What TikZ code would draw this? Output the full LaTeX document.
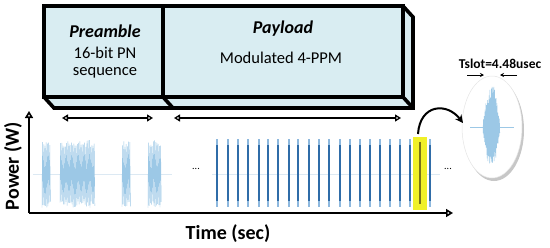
\documentclass[tikz,border=0pt]{standalone}
\usepackage{fontspec}
\setmainfont{Carlito}
\usetikzlibrary{arrows.meta}
\definecolor{boxfill}{HTML}{D9EDF2}
\definecolor{wavec}{HTML}{9CC8E6}
\definecolor{barc}{HTML}{2F6CA8}
\definecolor{barl}{HTML}{8DB8DE}
\definecolor{hlc}{HTML}{F0F028}
\definecolor{basec}{HTML}{DCE9F3}
\begin{document}
\begin{tikzpicture}[x=1pt,y=-1pt,
  boxline/.style={line width=3.6pt,line join=miter,draw=black},
  dimarrow/.style={line width=1.3pt,{Triangle[open,length=6pt,width=7pt]}-{Triangle[open,length=6pt,width=7pt]}},
  axisline/.style={line width=1.6pt},
  titletext/.style={font=\fontsize{18}{20}\selectfont\bfseries\itshape},
  subtext/.style={font=\fontsize{16.5}{19}\selectfont,align=center},
  axtext/.style={font=\fontsize{20}{22}\selectfont\bfseries},
  burst/.style={wavec,line width=0.45pt},
]
\useasboundingbox (0,0) rectangle (550,247);
% ---------- 3D frame box ----------
\fill[boxfill] (44,6) rectangle (403,97);
\fill[boxfill] (44,97) -- (403,97) -- (413,108) -- (54,108) -- cycle;
\fill[boxfill] (403,6) -- (413,17) -- (413,108) -- (403,97) -- cycle;
\draw[boxline] (44,6) rectangle (403,97);
\draw[boxline] (163,6) -- (163,97);
\draw[boxline] (44,97) -- (54,108) -- (413,108) -- (413,17) -- (403,6);
\draw[boxline] (163,97) -- (173,108);
\draw[boxline] (403,97) -- (413,108);
\node[titletext] (pre) at (105,31) {Preamble};
\node[subtext] (pres) at (105,63) {16-bit PN\\[-2pt]sequence};
\node[titletext] (pay) at (283,29) {Payload};
\node[subtext] (pays) at (281,58) {Modulated 4-PPM};
% ---------- dimension arrows ----------
\coordinate (pa) at (62,118); \coordinate (pb) at (153,118);
\coordinate (qa) at (174,118); \coordinate (qb) at (401,118);
\draw[dimarrow] (pa) -- (pb);
\draw[dimarrow] (qa) -- (qb);
% ---------- axes ----------
\coordinate (org) at (29,213);
\coordinate (ytop) at (29,111);
\coordinate (xend) at (453,213);
\draw[axisline,-{Triangle[open,length=7pt,width=8pt]}] (org) -- (ytop);
\draw[axisline,-{Triangle[open,length=7pt,width=8pt]}] (org) -- (xend);
\node[axtext,rotate=90] (ylab) at (13,166) {Power (W)};
\node[axtext] (xlab) at (228,234) {Time (sec)};
% ---------- baseline ----------
\draw[basec,line width=0.6pt] (33,174) -- (172,174);
\draw[basec,line width=0.6pt] (212,174) -- (440,174);
% ---------- preamble bursts ----------
\pgfmathsetseed{11}
\foreach \a/\n in {42/14,60/58,122/14,148/22}{
  \draw[burst] (\a,174) \foreach \i in {0,...,\n}{ -- ({\a+\i*0.6},{174+(1-2*mod(\i,2))*(27+7*rnd)}) };
}
\node[font=\fontsize{10}{10}\selectfont] (dots1) at (196,169) {...};
% ---------- payload bars ----------
\foreach \x/\w in {217/2.8,228/1.8,238/1.8,248/2.8,259/1.8,268/2.2,278/2.8,289/1.8,298/1.8,309/2.8,319/1.8,329/1.8,340/2.8,350/1.8,360/1.8,370/2.8,380/1.8,390/1.8,400/2.8,410/1.8,430/1.8}{
  \draw[barl,line width=\w pt] (\x,139) -- (\x,207);
  \draw[barc,line width=\w pt] (\x,145) -- (\x,201);
}
\fill[hlc] (413,137) rectangle (427,210);
\draw[olive!80!black,line width=1.6pt] (420,142) -- (420,204);
\coordinate (hltop) at (418,134);
\node[font=\fontsize{10}{10}\selectfont] (dots2) at (448,169) {...};
% ---------- zoom ellipse ----------
\fill[black!22] (494,130) ellipse [x radius=30, y radius=51];
\fill[white] (492,127) ellipse [x radius=30, y radius=51];
\draw[black!10,line width=0.5pt] (492,127) ellipse [x radius=30, y radius=51];
\coordinate (ell) at (463,123);
\draw[wavec,line width=0.5pt] (470,127) -- (514,127);
\pgfmathsetseed{5}
\draw[wavec,line width=0.45pt] (483,127) \foreach \i in {0,...,42}{ -- ({483+\i*0.4},{127+(1-2*mod(\i,2))*(6+38*sin(180*\i/42)*(0.55+0.45*rnd))}) };
\node[font=\fontsize{13.5}{14}\selectfont\bfseries] (ts) at (500,64) {Tslot=4.48usec};
\coordinate (tl1) at (467,75); \coordinate (tl2) at (484,75);
\coordinate (tr1) at (517,75); \coordinate (tr2) at (500,75);
\draw[line width=0.8pt,-{Stealth[length=4pt,width=4pt]}] (tl1) -- (tl2);
\draw[line width=0.8pt,-{Stealth[length=4pt,width=4pt]}] (tr1) -- (tr2);
% ---------- curved arrow ----------
\draw[line width=2pt,-{Stealth[length=8pt,width=8pt]}] (hltop) .. controls (420,104) and (447,102) .. (ell);
\end{tikzpicture}
\end{document}
